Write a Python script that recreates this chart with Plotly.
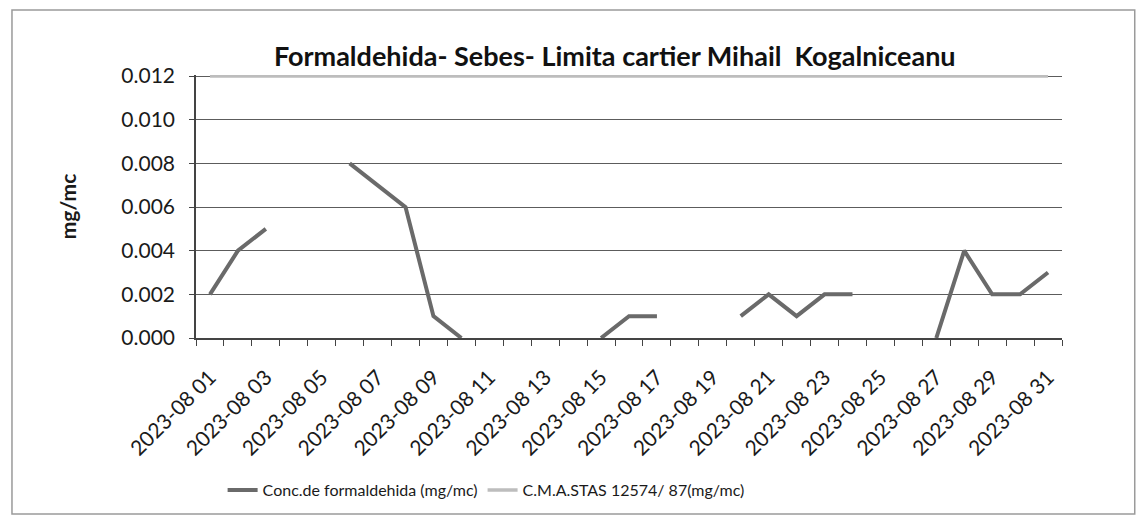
import plotly.graph_objects as go

days = ["2023-08 %02d" % d for d in range(1, 32)]

conc = [0.002, 0.004, 0.005, None, None, 0.008, 0.007, 0.006, 0.001, 0.000,
        None, None, None, None, 0.000, 0.001, 0.001, None, None, 0.001,
        0.002, 0.001, 0.002, 0.002, None, None, 0.000, 0.004, 0.002, 0.002,
        0.003]
stas = [0.012] * len(days)

y_ticks = [0.000, 0.002, 0.004, 0.006, 0.008, 0.010, 0.012]

idx = list(range(len(days)))
font = "Lato, 'Open Sans', sans-serif"

fig = go.Figure()
fig.add_trace(
    go.Scatter(
        x=idx, y=conc, mode="lines", name="Conc.de formaldehida (mg/mc)",
        line=dict(color="#6a6a6a", width=4),
    )
)
fig.add_trace(
    go.Scatter(
        x=idx, y=stas, mode="lines", name="C.M.A.STAS 12574/ 87(mg/mc)",
        line=dict(color="#bdbdbd", width=3.5),
    )
)

# page has an 8px body offset, so margins are shifted by it
fig.update_layout(
    width=1147, height=519,
    margin=dict(l=188, r=93, t=67, b=189),
    paper_bgcolor="white", plot_bgcolor="white",
    font=dict(family=font, color="#1a1a1a", size=21),
    title=dict(
        text="<b>Formaldehida- Sebes- Limita cartier Mihail&nbsp; Kogalniceanu</b>",
        x=0.529, xanchor="center", y=0.906, yanchor="middle",
        font=dict(size=27, family=font, color="#111111"),
    ),
    showlegend=True,
    legend=dict(
        orientation="h", x=0.335, xanchor="center", y=-0.578, yanchor="middle",
        font=dict(size=16), itemwidth=30,
    ),
    shapes=[
        dict(type="rect", xref="paper", yref="paper",
             x0=-0.2125, x1=1.084, y0=-0.669, y1=1.247,
             line=dict(color="#9a9a9a", width=1.5), layer="below"),
    ],
)

fig.update_xaxes(
    range=[-0.5, len(days) - 0.5], automargin=False,
    tickvals=idx[::2], ticktext=days[::2],
    tickangle=-45, tickfont=dict(size=21),
    ticks="", ticklabelstandoff=17, showgrid=False, zeroline=False,
    showline=True, linecolor="#444444", linewidth=1.5,
    minor=dict(dtick=1, tick0=0.5, ticks="outside", ticklen=6,
               tickcolor="#444444", showgrid=False),
)
fig.update_yaxes(
    range=[0, 0.01205], automargin=False, tickvals=y_ticks, tickformat=".3f",
    ticks="outside", ticklen=5, tickcolor="#444444",
    ticklabelstandoff=10, tickfont=dict(size=21),
    showgrid=True, gridcolor="#5c5c5c", gridwidth=1,
    zeroline=False, showline=True, linecolor="#444444", linewidth=1.5,
    title=dict(text="<b>mg/mc</b>", font=dict(size=21), standoff=39),
)

fig.write_html("out.html")
